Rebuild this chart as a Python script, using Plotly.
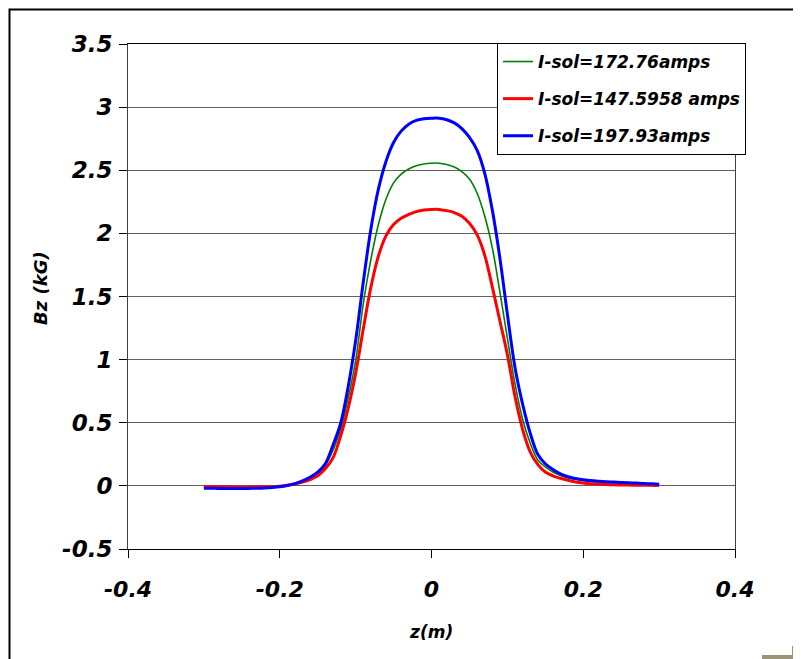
import plotly.graph_objects as go

z_m = [-0.30, -0.29, -0.28, -0.27, -0.26, -0.25, -0.24, -0.23, -0.22, -0.21,
       -0.20, -0.19, -0.18, -0.17, -0.16, -0.15, -0.14, -0.13, -0.12, -0.11,
       -0.10, -0.09, -0.08, -0.07, -0.06, -0.05, -0.04, -0.03, -0.02, -0.01,
       0.00, 0.01, 0.02, 0.03, 0.04, 0.05, 0.06, 0.07, 0.08, 0.09,
       0.10, 0.11, 0.12, 0.13, 0.14, 0.15, 0.16, 0.17, 0.18, 0.19,
       0.20, 0.21, 0.22, 0.23, 0.24, 0.25, 0.26, 0.27, 0.28, 0.29, 0.30]

bz_172_76 = [-0.012, -0.013, -0.014, -0.014, -0.015, -0.015, -0.014, -0.013, -0.012, -0.009,
             -0.004, 0.004, 0.017, 0.035, 0.060, 0.095, 0.16, 0.28, 0.44, 0.69,
             0.99, 1.44, 1.79, 2.07, 2.27, 2.40, 2.47, 2.51, 2.535, 2.55,
             2.556, 2.556, 2.545, 2.525, 2.49, 2.43, 2.32, 2.14, 1.89, 1.54,
             1.17, 0.81, 0.53, 0.34, 0.205, 0.15, 0.11, 0.082, 0.063, 0.052,
             0.043, 0.036, 0.031, 0.028, 0.025, 0.022, 0.020, 0.018, 0.016, 0.014, 0.012]

bz_147_5958 = [-0.005, -0.006, -0.007, -0.007, -0.008, -0.008, -0.008, -0.008, -0.007, -0.006,
               -0.002, 0.005, 0.015, 0.030, 0.050, 0.080, 0.135, 0.22, 0.39, 0.61,
               0.89, 1.24, 1.57, 1.82, 1.98, 2.07, 2.12, 2.15, 2.172, 2.185,
               2.19, 2.19, 2.18, 2.165, 2.135, 2.08, 1.99, 1.83, 1.58, 1.31,
               1.04, 0.71, 0.45, 0.27, 0.17, 0.11, 0.08, 0.06, 0.044, 0.031,
               0.022, 0.016, 0.012, 0.010, 0.008, 0.007, 0.006, 0.005, 0.005, 0.004, 0.004]

bz_197_93 = [-0.018, -0.019, -0.020, -0.020, -0.021, -0.021, -0.020, -0.019, -0.017, -0.013,
             -0.007, 0.003, 0.018, 0.040, 0.068, 0.108, 0.175, 0.32, 0.49, 0.78,
             1.15, 1.61, 2.03, 2.35, 2.57, 2.72, 2.81, 2.865, 2.895, 2.908,
             2.912, 2.912, 2.90, 2.875, 2.83, 2.76, 2.66, 2.48, 2.19, 1.81,
             1.36, 0.94, 0.65, 0.42, 0.25, 0.175, 0.13, 0.095, 0.072, 0.058,
             0.048, 0.042, 0.037, 0.033, 0.030, 0.027, 0.024, 0.022, 0.019, 0.016, 0.013]

series = [
    ("I-sol=172.76amps", bz_172_76, "#008000", 1.6),
    ("I-sol=147.5958 amps", bz_147_5958, "#FF0000", 3),
    ("I-sol=197.93amps", bz_197_93, "#0000FF", 3),
]

x_ticks = [-0.4, -0.2, 0, 0.2, 0.4]
x_tick_text = ["-0.4", "-0.2", "0", "0.2", "0.4"]
y_ticks = [-0.5, 0, 0.5, 1, 1.5, 2, 2.5, 3, 3.5]
y_tick_text = ["-0.5", "0", "0.5", "1", "1.5", "2", "2.5", "3", "3.5"]

FONT = "DejaVu Sans"

fig = go.Figure()
for i, (name, vals, color, w) in enumerate(series):
    fig.add_trace(go.Scatter(
        x=z_m, y=vals, mode="lines", name=name, legendgroup=f"g{i}",
        line=dict(color=color, width=w, shape="spline", smoothing=1.0),
    ))

fig.update_layout(
    width=801, height=659,
    margin=dict(l=120, r=74, t=36, b=118),
    paper_bgcolor="white", plot_bgcolor="white",
    font=dict(family=FONT, color="black"),
    showlegend=True,
    legend=dict(
        x=0.608, xanchor="left", y=1.002, yanchor="top",
        bgcolor="white", bordercolor="black", borderwidth=1,
        font=dict(family=FONT, size=17, weight="bold", style="italic", color="black"),
        traceorder="grouped", tracegroupgap=12,
    ),
    xaxis=dict(
        range=[-0.4, 0.4], tickvals=x_ticks, ticktext=x_tick_text,
        showgrid=False, zeroline=False,
        showline=True, linecolor="#000000", linewidth=1, mirror=True,
        ticks="outside", ticklen=8, tickcolor="#000000",
        ticklabelstandoff=13,
        tickfont=dict(family=FONT, size=22, weight="bold", style="italic", color="black"),
    ),
    yaxis=dict(
        range=[-0.5, 3.5], tickvals=y_ticks, ticktext=y_tick_text,
        showgrid=True, gridcolor="#606060", gridwidth=1, zeroline=False,
        showline=True, linecolor="#404040", linewidth=1, mirror=True,
        ticks="outside", ticklen=8, tickcolor="#000000",
        ticklabelstandoff=2,
        tickfont=dict(family=FONT, size=23, weight="bold", style="italic", color="black"),
    ),
    annotations=[
        dict(text="Bz (kG)", xref="paper", yref="paper",
             x=(40 - 128) / 607, y=(549 - 288) / 505, textangle=-90,
             showarrow=False, xanchor="center", yanchor="middle",
             font=dict(family=FONT, size=18, weight="bold", style="italic", color="black")),
        dict(text="z(m)", xref="paper", yref="paper",
             x=(431 - 128) / 607, y=(549 - 632) / 505,
             showarrow=False, xanchor="center", yanchor="middle",
             font=dict(family=FONT, size=17, weight="bold", style="italic", color="black")),
    ],
    shapes=[
        dict(type="rect", xref="paper", yref="paper",
             x0=(9.5 - 128) / 607, x1=(830 - 128) / 607,
             y0=(549 - 690) / 505, y1=(549 - 9.5) / 505,
             line=dict(color="black", width=2), fillcolor="rgba(0,0,0,0)", layer="below"),
        dict(type="rect", xref="paper", yref="paper",
             x0=(762 - 128) / 607, x1=(801 - 128) / 607,
             y0=(549 - 662) / 505, y1=(549 - 655) / 505,
             line=dict(width=0), fillcolor="#9c9476", layer="below"),
        dict(type="rect", xref="paper", yref="paper",
             x0=(792 - 128) / 607, x1=(801 - 128) / 607,
             y0=(549 - 662) / 505, y1=(549 - 646) / 505,
             line=dict(width=0), fillcolor="#9c9476", layer="below"),
    ],
)

fig.write_html("out.html")
